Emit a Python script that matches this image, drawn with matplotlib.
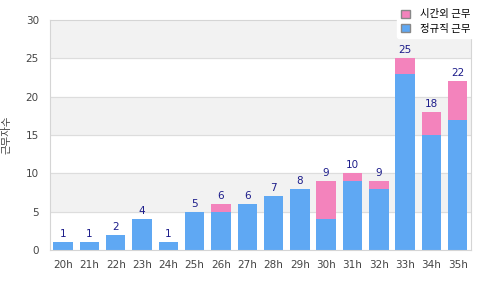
import matplotlib
matplotlib.use('Agg')
import matplotlib.pyplot as plt
import numpy as np

plt.rcParams['font.family'] = ['DejaVu Sans', 'Noto Sans CJK KR']

hours = ['20h', '21h', '22h', '23h', '24h', '25h', '26h', '27h',
         '28h', '29h', '30h', '31h', '32h', '33h', '34h', '35h']
base = [1, 1, 2, 4, 1, 5, 5, 6, 7, 8, 4, 9, 8, 23, 15, 17]
extra = [0, 0, 0, 0, 0, 0, 1, 0, 0, 0, 5, 1, 1, 2, 3, 5]
label_base = '정규직 근무'
label_extra = '시간외 근무'
ylabel = '근무자수'

blue = '#5fa8f3'
pink = '#f383bc'

fig = plt.figure(figsize=(4.8, 3.0), dpi=100)
ax = fig.add_axes([0.104, 0.167, 0.877, 0.766])

# alternating bands
for lo in range(5, 30, 10):
    ax.axhspan(lo, lo + 5, color='#f2f2f2', zorder=0)
for y in range(5, 30, 5):
    ax.axhline(y, color='#dddddd', lw=0.8, zorder=1)

x = np.arange(len(hours))
ax.bar(x, base, width=0.74, color=blue, zorder=2, label=label_base)
ax.bar(x, extra, width=0.74, bottom=base, color=pink, zorder=2, label=label_extra)

totals = np.array(base) + np.array(extra)
for xi, t in zip(x, totals):
    ax.text(xi, t + 0.4, str(t), ha='center', va='bottom', fontsize=7.5, color='#1c1c8a')

ax.set_xlim(-0.5, len(hours) - 0.5)
ax.set_ylim(0, 30)
ax.set_yticks(range(0, 31, 5))
ax.set_xticks(x)
ax.set_xticklabels(hours)
ax.tick_params(length=0, labelsize=7.5, colors='#444444')
ax.tick_params(axis='y', pad=8)
ax.tick_params(axis='x', pad=7)
for s in ax.spines.values():
    s.set_color('#d5d5d5')
ax.set_ylabel(ylabel, family=['Noto Sans CJK KR'], fontsize=7.5, color='#444444', labelpad=10)

h, l = ax.get_legend_handles_labels()
leg = fig.legend(h[::-1], l[::-1], loc='upper right', bbox_to_anchor=(1.0, 1.0),
                 frameon=True, handlelength=0.8, handleheight=0.8,
                 borderpad=0.4, labelspacing=0.4, handletextpad=1.0,
                 prop={'family': ['Noto Sans CJK KR'], 'size': 7.5})
leg.get_frame().set_edgecolor('white')
leg.get_frame().set_alpha(1)
for p in leg.get_patches():
    p.set_edgecolor('#888888')

fig.savefig('out.png', dpi=100)
